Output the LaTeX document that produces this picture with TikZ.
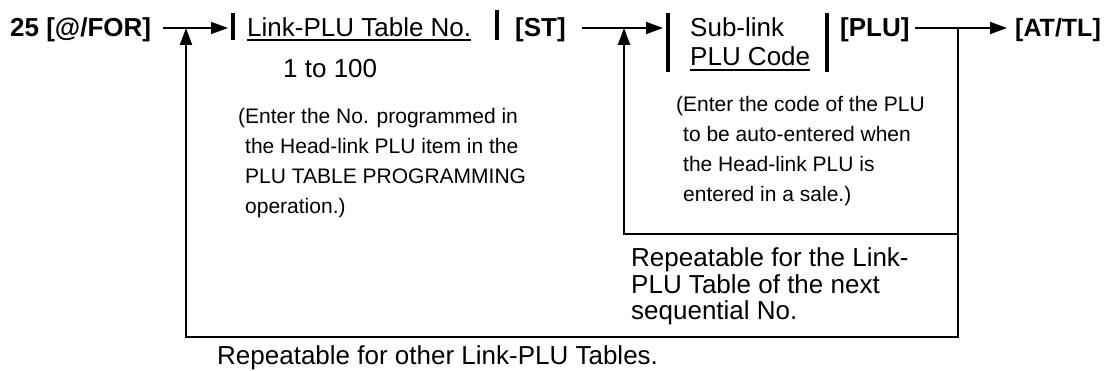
\documentclass[tikz,border=0pt]{standalone}
\usepackage{fontspec}
\setmainfont{Liberation Sans}
\usetikzlibrary{arrows.meta}
\begin{document}
\begin{tikzpicture}[x=1pt,y=-1pt,
  key/.style={font=\fontsize{26}{26}\selectfont\bfseries, inner sep=0pt, anchor=base west},
  lbl/.style={font=\fontsize{26}{26}\selectfont, inner sep=0pt, anchor=base west},
  note/.style={font=\fontsize{21}{30}\selectfont, inner sep=0pt, anchor=base west},
  flow/.style={line width=1.6pt, -{Triangle[length=17pt,width=12pt]}},
  loopline/.style={line width=2.2pt, -{Triangle[length=17pt,width=12pt]}},
  bar/.style={line width=3.5pt},
  uline/.style={line width=1.4pt}]
\fill[white] (0,0) rectangle (1105,371);
\useasboundingbox (0,0) rectangle (1105,371);

% main row
\node[key] (n25) at (10,37) {25 [@/FOR]};
\node[lbl] (lk) at (247,37) {Link-PLU Table No.};
\node[key] (st) at (515,37) {[ST]};
\node[lbl] (sub1) at (690,37) {Sub-link};
\node[lbl] (sub2) at (690,66) {PLU Code};
\node[key] (plu) at (840,37) {[PLU]};
\node[key, font=\fontsize{25}{25}\selectfont\bfseries] (at) at (1015,37) {[AT/TL]};
\node[lbl] (rng) at (283,78) {1 to 100};

% bars
\draw[bar] (233,13) -- (233,40);
\draw[bar] (497,10) -- (497,40);
\draw[bar] (668,13) -- (668,72);
\draw[bar] (827,13) -- (827,72);

% underlines
\draw[uline] ([yshift=-3pt]lk.base west) -- ([yshift=-3pt]lk.base east);
\draw[uline] ([yshift=-4pt]sub2.base west) -- ([yshift=-4pt]sub2.base east);

% notes
\foreach \t [count=\i] in {{\llap{(}Enter the No. programmed in},{the Head-link PLU item in the},{PLU TABLE PROGRAMMING},{operation.)}}
  \node[note] (na\i) at (245,{94+30*\i}) {\t};
\foreach \t [count=\i] in {{\llap{(}Enter the code of the PLU},{to be auto-entered when},{the Head-link PLU is},{entered in a sale.)}}
  \node[note] (nb\i) at (683,{82+30*\i}) {\t};
\foreach \t [count=\i] in {{Repeatable for the Link-},{PLU Table of the next},{sequential No.}}
  \node[lbl] (rp\i) at (631,{241+26*\i}) {\t};
\node[lbl] (rb) at (217,364) {Repeatable for other Link-PLU Tables.};

% coordinates
\coordinate (j1) at (186,28); \coordinate (t1) at (228,28);
\coordinate (j2) at (624,28); \coordinate (t2) at (663,28);
\coordinate (j3) at (958,28); \coordinate (t3) at (1007,28);
\coordinate (c1) at (958,234); \coordinate (c2) at (624,234);
\coordinate (c3) at (958,337); \coordinate (c4) at (186,337);

% flow lines
\draw[flow, shorten <=12pt] (n25.east |- j1) -- (t1);
\draw[flow, shorten <=16pt] (st.east |- j2) -- (t2);
\draw[flow, shorten <=5pt] (plu.east |- j3) -- (t3);

% loops
\draw[loopline] (j3) -- (c1) -- (c2) -- (j2);
\draw[loopline] (c1) -- (c3) -- (c4) -- (j1);
\end{tikzpicture}
\end{document}
